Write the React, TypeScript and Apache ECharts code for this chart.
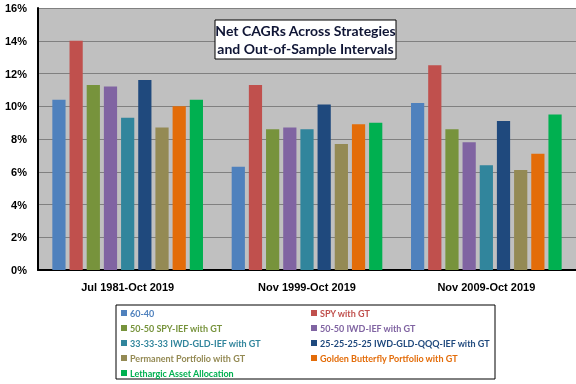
import React, { useEffect, useRef } from "react";
import * as echarts from "echarts";

const categories = ["Jul 1981-Oct 2019", "Nov 1999-Oct 2019", "Nov 2009-Oct 2019"];
const seriesNames = [
  "60-40",
  "SPY with GT",
  "50-50 SPY-IEF with GT",
  "50-50 IWD-IEF with GT",
  "33-33-33 IWD-GLD-IEF with GT",
  "25-25-25-25 IWD-GLD-QQQ-IEF with GT",
  "Permanent Portfolio with GT",
  "Golden Butterfly Portfolio with GT",
  "Lethargic Asset Allocation",
];
const seriesColors = ["#4F81BD", "#C0504D", "#77933C", "#8064A2", "#31859C", "#1F497D", "#948A54", "#E36C09", "#00B050"];
const s6040 = [10.4, 6.3, 10.2];
const sSpy = [14.0, 11.3, 12.5];
const sSpyIef = [11.3, 8.6, 8.6];
const sIwdIef = [11.2, 8.7, 7.8];
const sIwdGldIef = [9.3, 8.6, 6.4];
const sIwdGldQqqIef = [11.6, 10.1, 9.1];
const sPermanent = [8.7, 7.7, 6.1];
const sButterfly = [10.0, 8.9, 7.1];
const sLethargic = [10.4, 9.0, 9.5];
const seriesValues = [s6040, sSpy, sSpyIef, sIwdIef, sIwdGldIef, sIwdGldQqqIef, sPermanent, sButterfly, sLethargic];
const yTicks = [0, 2, 4, 6, 8, 10, 12, 14, 16];
const titleLines = ["Net CAGRs Across Strategies", "and Out-of-Sample Intervals"];

export default function App() {
  const ref = useRef<HTMLDivElement>(null);
  useEffect(() => {
    if (!ref.current) return;
    const chart = echarts.init(ref.current, null, { renderer: "svg" });
    const legendFont = { fontFamily: "Lato", fontSize: 9, fontWeight: "bold" as const, lineHeight: 12 };
    const leftIdx = [0, 2, 4, 6, 8];
    const rightIdx = [1, 3, 5, 7];
    const mkLegend = (idx: number[], left: number) => ({
      orient: "vertical" as const,
      left,
      top: 307,
      height: 80,
      padding: 0,
      itemWidth: 6,
      itemHeight: 6,
      itemGap: 3,
      icon: "rect",
      textStyle: { ...legendFont, padding: [0, 0, 0, -2] },
      data: idx.map((i) => ({ name: seriesNames[i], textStyle: { color: seriesColors[i] } })),
    });
    chart.setOption({
      animation: false,
      grid: {
        left: 38,
        right: 0,
        top: 8,
        bottom: 114,
        show: true,
        backgroundColor: "#C0C0C0",
        borderWidth: 0,
      },
      legend: [mkLegend(leftIdx, 121), mkLegend(rightIdx, 311)],
      xAxis: {
        type: "category",
        data: categories,
        axisLine: { lineStyle: { color: "#000", width: 2 } },
        axisTick: { show: false },
        axisLabel: { fontFamily: "Liberation Sans", fontSize: 11, fontWeight: "bold", color: "#000", margin: 11 },
      },
      yAxis: {
        type: "value",
        min: yTicks[0],
        max: yTicks[yTicks.length - 1],
        interval: 2,
        axisLine: { show: true, lineStyle: { color: "#000", width: 2 } },
        axisTick: { show: false },
        splitLine: { lineStyle: { color: "#808080", width: 1 } },
        axisLabel: {
          fontFamily: "Liberation Sans",
          fontSize: 11,
          fontWeight: "bold",
          color: "#000",
          margin: 11,
          formatter: (v: number) => v + "%",
        },
      },
      series: seriesNames.map((name, i) => ({
        name,
        type: "bar",
        data: seriesValues[i],
        itemStyle: { color: seriesColors[i] },
        barGap: "30%",
        barCategoryGap: "16%",
      })),
      graphic: [
        {
          type: "rect",
          shape: { x: 215, y: 20, width: 181, height: 39 },
          style: { fill: "#fff", stroke: "#000", lineWidth: 1 },
          z: 10,
        },
        {
          type: "text",
          x: 305.5,
          y: 39.5,
          z: 11,
          style: {
            text: titleLines.join("\n"),
            fontFamily: "Lato",
            fontSize: 14,
            fontWeight: "bold",
            fill: "#0F1535",
            align: "center",
            verticalAlign: "middle",
            lineHeight: 18,
          },
        },
        {
          type: "rect",
          shape: { x: 116, y: 305, width: 379, height: 74 },
          style: { fill: "none", stroke: "#000", lineWidth: 1 },
        },
      ],
    });
    return () => chart.dispose();
  }, []);
  return <div ref={ref} style={{ position: "fixed", left: 0, top: 0, width: 576, height: 384 }} />;
}
